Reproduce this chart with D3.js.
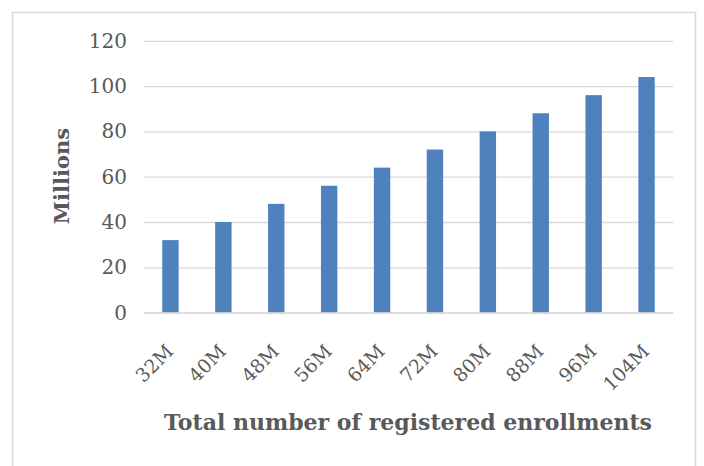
<!DOCTYPE html>
<html>
<head>
<meta charset="utf-8">
<script src="https://cdn.jsdelivr.net/npm/d3@7"></script>
<style>
  body { margin: 0; background: #fff; }
  text { font-family: "DejaVu Serif", serif; }
</style>
</head>
<body>
<svg id="chart" width="704" height="466"></svg>
<script>
// categories and values
const categories = ["32M", "40M", "48M", "56M", "64M", "72M", "80M", "88M", "96M", "104M"];
const enrollments = [32, 40, 48, 56, 64, 72, 80, 88, 96, 104];
const yTicks = [0, 20, 40, 60, 80, 100, 120];

const svg = d3.select("#chart");

// outer chart border
svg.append("rect")
  .attr("x", 12.5).attr("y", 12.5)
  .attr("width", 683).attr("height", 480)
  .attr("fill", "none")
  .attr("stroke", "#d9d9d9")
  .attr("stroke-width", 1.5);

const plot = { left: 144, right: 673, top: 40.8, bottom: 312.6 };

const x = d3.scaleBand()
  .domain(categories)
  .range([plot.left, plot.right])
  .paddingInner(0.69)
  .paddingOuter(0.345);

const y = d3.scaleLinear()
  .domain([0, 120])
  .range([plot.bottom, plot.top]);

// gridlines + y labels
const yAxis = d3.axisLeft(y)
  .tickValues(yTicks)
  .tickSize(-(plot.right - plot.left))
  .tickPadding(17)
  .tickFormat(d3.format("d"));

const gy = svg.append("g")
  .attr("transform", "translate(" + plot.left + ",0)")
  .call(yAxis);
gy.select(".domain").remove();
gy.selectAll(".tick line").attr("stroke", "#d9d9d9").attr("stroke-width", 1.3);
gy.selectAll(".tick text")
  .attr("fill", "#595959")
  .style("font-size", "20px");

// bars
svg.append("g")
  .selectAll("rect")
  .data(enrollments)
  .join("rect")
  .attr("x", (d, i) => x(categories[i]))
  .attr("y", d => y(d))
  .attr("width", x.bandwidth())
  .attr("height", d => y(0) - y(d))
  .attr("fill", "#4f81bd");

// x axis
const xAxis = d3.axisBottom(x).tickSize(0).tickPadding(0);
const gx = svg.append("g")
  .attr("transform", "translate(0," + plot.bottom + ")")
  .call(xAxis);
gx.select(".domain").attr("stroke", "#d9d9d9").attr("stroke-width", 1.5);
gx.selectAll(".tick text")
  .attr("fill", "#595959")
  .style("font-size", "19px")
  .attr("text-anchor", "end")
  .attr("dy", "0")
  .attr("transform", "translate(4,40) rotate(-45)");

// axis titles
svg.append("text")
  .attr("transform", "translate(69,176) rotate(-90)")
  .attr("text-anchor", "middle")
  .attr("fill", "#595959")
  .style("font-size", "21px")
  .style("font-weight", "bold")
  .text("Millions");

svg.append("text")
  .attr("x", 408)
  .attr("y", 430)
  .attr("text-anchor", "middle")
  .attr("fill", "#595959")
  .style("font-size", "22px")
  .style("font-weight", "bold")
  .text("Total number of registered enrollments");
</script>
</body>
</html>
